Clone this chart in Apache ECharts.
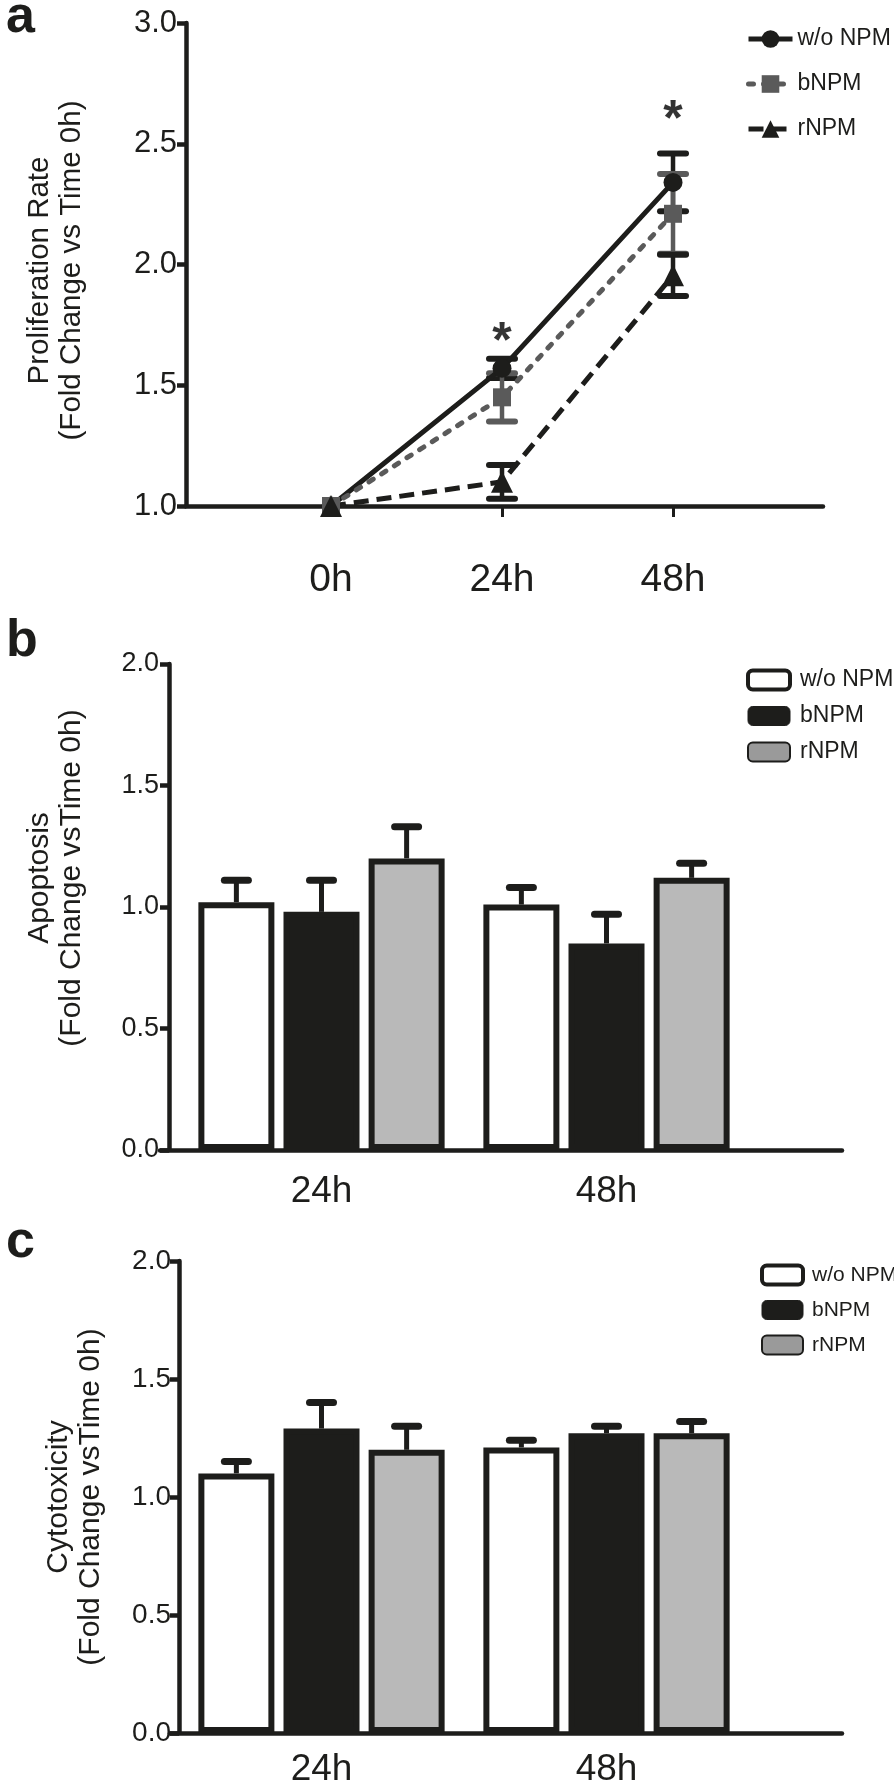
<!DOCTYPE html>
<html>
<head>
<meta charset="utf-8">
<script src="https://cdn.jsdelivr.net/npm/echarts@6/dist/echarts.min.js"></script>
<style>
html,body{margin:0;padding:0;background:#ffffff;}
#wrap{position:relative;width:894px;height:1788px;overflow:hidden;}
.pan{position:absolute;left:0;width:894px;}
#pa{top:0;height:640px;}
#pb{top:600px;height:640px;}
#pc{top:1200px;height:588px;}
</style>
</head>
<body>
<div id="wrap"><div id="pa" class="pan"></div><div id="pb" class="pan"></div><div id="pc" class="pan"></div></div>
<script>
// ---------------- data ----------------
const seriesNames = ['w/o NPM', 'bNPM', 'rNPM'];

// Panel a: proliferation (line chart)
const timeHours = [0, 24, 48];
const timeLabels = ['0h', '24h', '48h'];
const prolifMeanWo = [1.00, 1.57, 2.34];
const prolifErrWo  = [0, 0.04, 0.12];
const prolifMeanB  = [1.00, 1.45, 2.21];
const prolifErrB   = [0, 0.10, 0.165];
const prolifMeanR  = [1.00, 1.10, 1.955];
const prolifErrR   = [0, 0.07, 0.085];
const sigHours = [24, 48];
const sigLevel = [1.72, 2.64];

// Panel b: apoptosis (bar chart)
const barCategories = ['24h', '48h'];
const apoMeanWo = [1.02, 1.01];
const apoErrWo  = [0.09, 0.07];
const apoMeanB  = [0.98, 0.85];
const apoErrB   = [0.13, 0.12];
const apoMeanR  = [1.20, 1.12];
const apoErrR   = [0.13, 0.06];

// Panel c: cytotoxicity (bar chart)
const cytoMeanWo = [1.10, 1.21];
const cytoErrWo  = [0.05, 0.03];
const cytoMeanB  = [1.29, 1.27];
const cytoErrB   = [0.11, 0.03];
const cytoMeanR  = [1.20, 1.27];
const cytoErrR   = [0.10, 0.05];

// ---------------- style ----------------
const F = "'Liberation Sans', Arial, Helvetica, sans-serif";
const K = '#1d1d1b';
const G = '#5a5a5a';
const BAR_GRAY = '#b9b9b9';
const LEG_GRAY = '#9a9a9a';
const AXW = 4.5;
const BAR_W = 76;
const BAR_GAP = 0.12;

function lineErr(color) {
  return function (params, api) {
    const x = api.value(0), m = api.value(1), e = api.value(2);
    if (!e) return null;
    const hi = api.coord([x, m + e]);
    const lo = api.coord([x, m - e]);
    const hw = 13;
    return {
      type: 'group',
      children: [
        {type: 'line', shape: {x1: hi[0], y1: hi[1], x2: lo[0], y2: lo[1]}, style: {stroke: color, lineWidth: 4.5}},
        {type: 'line', shape: {x1: hi[0] - hw, y1: hi[1], x2: hi[0] + hw, y2: hi[1]}, style: {stroke: color, lineWidth: 6, lineCap: 'round'}},
        {type: 'line', shape: {x1: lo[0] - hw, y1: lo[1], x2: lo[0] + hw, y2: lo[1]}, style: {stroke: color, lineWidth: 6, lineCap: 'round'}}
      ]
    };
  };
}

function barErr(idx) {
  return function (params, api) {
    const c = api.value(0), m = api.value(1), e = api.value(2);
    const base = api.coord([c, m]);
    const top = api.coord([c, m + e]);
    const x = base[0] + (idx - 1) * BAR_W * (1 + BAR_GAP);
    const hw = 12;
    return {
      type: 'group',
      children: [
        {type: 'line', shape: {x1: x, y1: base[1], x2: x, y2: top[1]}, style: {stroke: K, lineWidth: 5}},
        {type: 'line', shape: {x1: x - hw, y1: top[1], x2: x + hw, y2: top[1]}, style: {stroke: K, lineWidth: 7, lineCap: 'round'}}
      ]
    };
  };
}

// ---------------- panel a ----------------
const chartA = echarts.init(document.getElementById('pa'), null, {renderer: 'canvas'});
const ptsA = (mean) => timeHours.map((h, i) => [h, mean[i]]);
const errA = (mean, err) => timeHours.map((h, i) => [h, mean[i], err[i]]);
chartA.setOption({
  animation: false,
  title: {text: 'a', left: 1, top: -13, textStyle: {fontFamily: F, fontSize: 52, fontWeight: 'bold', color: K}},
  legend: {
    orient: 'vertical', left: 741, top: 22, itemWidth: 44, itemHeight: 22, itemGap: 21,
    lineStyle: {width: 5},
    textStyle: {fontFamily: F, fontSize: 23, color: K, lineHeight: 24},
    data: seriesNames
  },
  grid: {left: 186, top: 23, width: 637, height: 483, outerBoundsMode: 'none'},
  xAxis: {
    type: 'value', min: -20.35, max: 69.05,
    splitLine: {show: false},
    axisLine: {onZero: false, lineStyle: {color: K, width: AXW}},
    axisTick: {customValues: timeHours, length: 11, lineStyle: {color: K, width: 3}},
    axisLabel: {customValues: timeHours, margin: 55, fontFamily: F, fontSize: 39, color: K,
      formatter: (v) => timeLabels[timeHours.indexOf(v)]}
  },
  yAxis: {
    type: 'value', min: 1, max: 3, interval: 0.5,
    name: 'Proliferation Rate\n(Fold Change vs Time 0h)',
    nameLocation: 'middle', nameRotate: 90, nameGap: 98,
    nameTextStyle: {fontFamily: F, fontSize: 29.5, color: K, lineHeight: 32, padding: [0, 12, 0, 0]},
    splitLine: {show: false},
    axisLine: {show: true, onZero: false, lineStyle: {color: K, width: AXW}},
    axisTick: {show: true, length: 9, lineStyle: {color: K, width: AXW}},
    axisLabel: {margin: 9, fontFamily: F, fontSize: 31, color: K, formatter: (v) => v.toFixed(1)}
  },
  series: [
    {type: 'line', name: seriesNames[0], data: ptsA(prolifMeanWo), symbol: 'circle', symbolSize: 19,
      lineStyle: {color: K, width: 5}, itemStyle: {color: K}},
    {type: 'custom', data: errA(prolifMeanWo, prolifErrWo), renderItem: lineErr(K)},
    {type: 'line', name: seriesNames[1], data: ptsA(prolifMeanB), symbol: 'rect', symbolSize: 18,
      lineStyle: {color: G, width: 5, type: [5, 10], cap: 'round'}, itemStyle: {color: G}},
    {type: 'custom', data: errA(prolifMeanB, prolifErrB), renderItem: lineErr(G)},
    {type: 'line', name: seriesNames[2], data: ptsA(prolifMeanR), symbol: 'triangle', symbolSize: 22,
      lineStyle: {color: K, width: 5, type: [15, 8]}, itemStyle: {color: K}},
    {type: 'custom', data: errA(prolifMeanR, prolifErrR), renderItem: lineErr(K)},
    {type: 'scatter', data: sigHours.map((h, i) => [h, sigLevel[i]]), symbolSize: 0, silent: true,
      label: {show: true, position: 'inside', formatter: '*', fontFamily: F, fontSize: 50, fontWeight: 'bold', color: '#000000', offset: [0, 11]}}
  ]
});

// ---------------- bar panels ----------------
function barPanel(el, cfg, means, errs) {
  const ch = echarts.init(document.getElementById(el), null, {renderer: 'canvas'});
  const fills = ['#ffffff', K, BAR_GRAY];
  const series = [];
  means.forEach((m, i) => {
    series.push({
      type: 'bar', name: seriesNames[i], data: m, barWidth: BAR_W, barGap: (BAR_GAP * 100) + '%', z: 3,
      itemStyle: {color: fills[i], borderColor: K, borderWidth: 6}
    });
  });
  errs.forEach((e, i) => {
    series.push({
      type: 'custom', z: 2, data: barCategories.map((c, j) => [j, means[i][j], e[j]]), renderItem: barErr(i)
    });
  });
  const axisX = cfg.gridLeft - cfg.yOffset;
  ch.setOption({
    animation: false,
    title: {text: cfg.letter, left: 1, top: cfg.letterTop, textStyle: {fontFamily: F, fontSize: 52, fontWeight: 'bold', color: K}},
    legend: {
      orient: 'vertical', left: cfg.legendLeft, top: cfg.legendTop, icon: 'roundRect',
      itemWidth: cfg.legendW, itemHeight: 19, itemGap: cfg.legendGap,
      textStyle: {fontFamily: F, fontSize: cfg.legendFont, color: K, lineHeight: 24, padding: [0, 0, 0, cfg.legendPad]},
      data: [
        {name: seriesNames[0], itemStyle: {color: '#ffffff', borderColor: K, borderWidth: 4}},
        {name: seriesNames[1], itemStyle: {color: K, borderColor: K, borderWidth: 1}},
        {name: seriesNames[2], itemStyle: {color: LEG_GRAY, borderColor: K, borderWidth: 2}}
      ]
    },
    grid: [
      {left: cfg.gridLeft, top: cfg.gridTop, width: 570, height: cfg.gridH, outerBoundsMode: 'none'},
      {left: axisX - 9, top: cfg.gridTop, width: cfg.lineEnd - (axisX - 9), height: cfg.gridH, outerBoundsMode: 'none'}
    ],
    xAxis: [
      {
        type: 'category', data: barCategories, gridIndex: 0,
        axisLine: {show: false},
        axisTick: {show: false},
        axisLabel: {margin: cfg.labelMargin, fontFamily: F, fontSize: 37, color: K}
      },
      {
        type: 'value', gridIndex: 1, min: 0, max: 1, splitLine: {show: false},
        axisLine: {show: true, onZero: false, lineStyle: {color: K, width: AXW}},
        axisTick: {show: false}, axisLabel: {show: false}
      }
    ],
    yAxis: [
      {
        type: 'value', gridIndex: 0, min: 0, max: 2, interval: 0.5, offset: cfg.yOffset,
        name: cfg.yName, nameLocation: 'middle', nameRotate: 90, nameGap: cfg.nameGap,
        nameTextStyle: {fontFamily: F, fontSize: 30, color: K, lineHeight: 32, padding: cfg.namePad},
        splitLine: {show: false},
        axisLine: {show: true, lineStyle: {color: K, width: AXW}},
        axisTick: {show: true, length: 9, lineStyle: {color: K, width: AXW}},
        axisLabel: {margin: cfg.tickMargin, fontFamily: F, fontSize: cfg.tickFont, color: K, formatter: (v) => v.toFixed(1)}
      },
      {type: 'value', gridIndex: 1, min: 0, max: 1, show: false}
    ],
    series: series
  });
}

barPanel('pb', {
  letter: 'b', letterTop: 11, gridLeft: 179, yOffset: 10, gridTop: 64, gridH: 486,
  lineEnd: 842, legendLeft: 741, legendTop: 63, legendGap: 12, legendW: 42, legendFont: 23, legendPad: 5,
  yName: 'Apoptosis\n(Fold Change vsTime 0h)', nameGap: 81, namePad: [0, 0, 0, 58],
  labelMargin: 23, tickMargin: 10, tickFont: 27
}, [apoMeanWo, apoMeanB, apoMeanR], [apoErrWo, apoErrB, apoErrR]);

barPanel('pc', {
  letter: 'c', letterTop: 12, gridLeft: 179, yOffset: 0, gridTop: 61, gridH: 472,
  lineEnd: 842, legendLeft: 755, legendTop: 58, legendGap: 11, legendW: 41, legendFont: 21, legendPad: 4,
  yName: 'Cytotoxicity\n(Fold Change vsTime 0h)', nameGap: 72, namePad: [0, 0, 0, 0],
  labelMargin: 18, tickMargin: 8, tickFont: 28
}, [cytoMeanWo, cytoMeanB, cytoMeanR], [cytoErrWo, cytoErrB, cytoErrR]);
</script>
</body>
</html>
